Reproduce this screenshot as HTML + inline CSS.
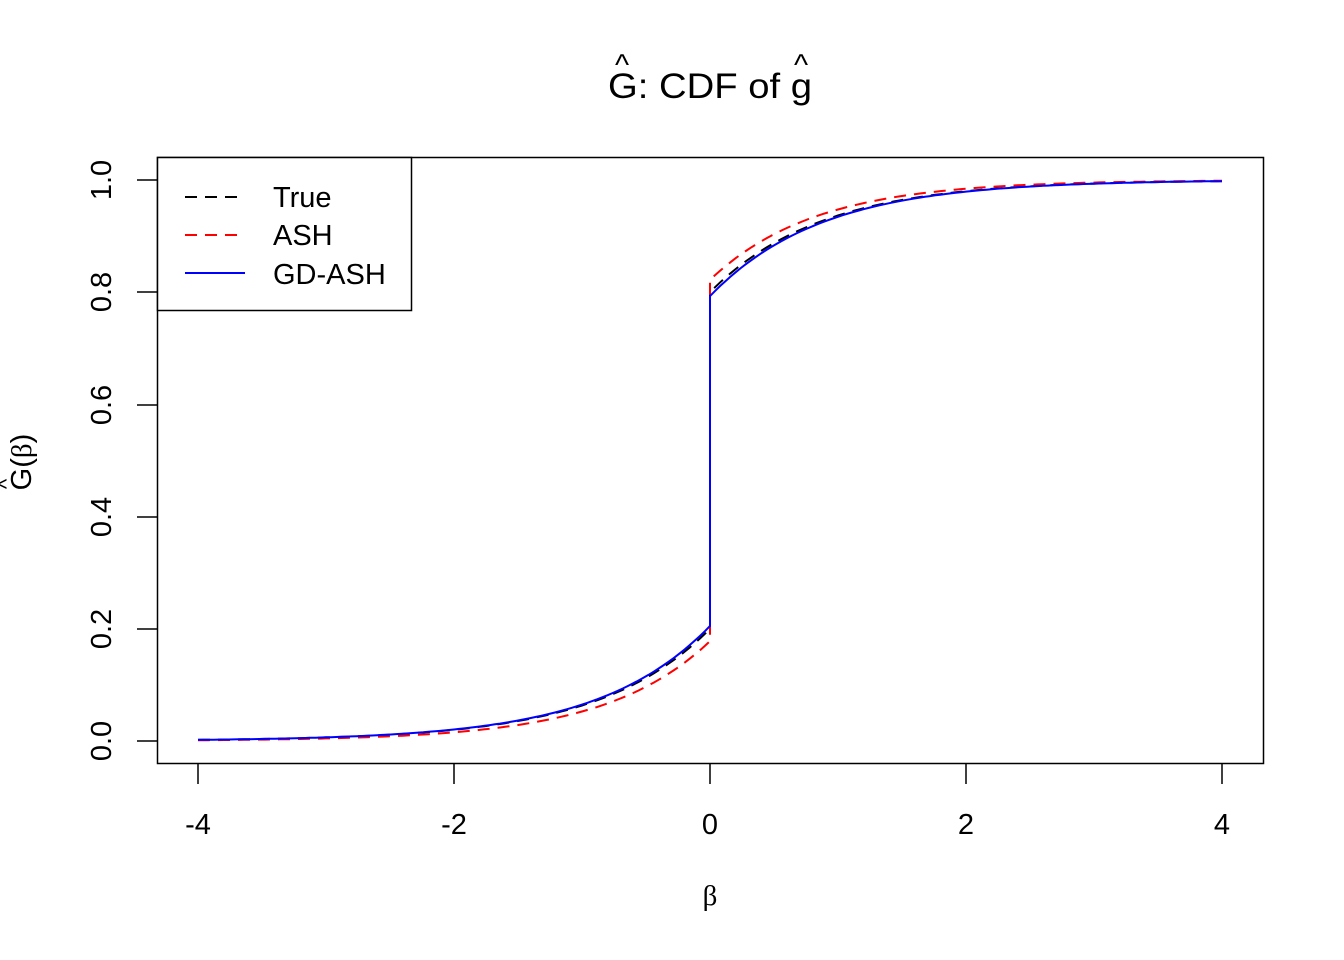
<!DOCTYPE html>
<html><head><meta charset="utf-8"><style>body{margin:0;background:#fff}svg{display:block}text{font-family:"Liberation Sans",sans-serif;fill:#000}</style></head><body>
<svg id="s" width="1344" height="960" xmlns="http://www.w3.org/2000/svg">
<text x="710" y="98" font-size="35" text-anchor="middle" textLength="204" lengthAdjust="spacingAndGlyphs">G: CDF of g</text>
<text x="622" y="75" font-size="30" text-anchor="middle">^</text>
<text x="801" y="75" font-size="30" text-anchor="middle">^</text>
<rect x="157.5" y="157.5" width="1106" height="606" fill="none" stroke="#000" stroke-width="1.5"/>
<g stroke="#000" stroke-width="1.5">
<line x1="198" y1="764" x2="198" y2="784"/><line x1="454" y1="764" x2="454" y2="784"/><line x1="710" y1="764" x2="710" y2="784"/><line x1="966" y1="764" x2="966" y2="784"/><line x1="1222" y1="764" x2="1222" y2="784"/>
<line x1="157" y1="741" x2="137" y2="741"/><line x1="157" y1="629" x2="137" y2="629"/><line x1="157" y1="517" x2="137" y2="517"/><line x1="157" y1="405" x2="137" y2="405"/><line x1="157" y1="292" x2="137" y2="292"/><line x1="157" y1="180" x2="137" y2="180"/>
</g>
<g font-size="29" text-anchor="middle">
<text x="198" y="834">-4</text><text x="454" y="834">-2</text><text x="710" y="834">0</text><text x="966" y="834">2</text><text x="1222" y="834">4</text>
<text transform="translate(111,741) rotate(-90)">0.0</text>
<text transform="translate(111,629) rotate(-90)">0.2</text>
<text transform="translate(111,517) rotate(-90)">0.4</text>
<text transform="translate(111,405) rotate(-90)">0.6</text>
<text transform="translate(111,292) rotate(-90)">0.8</text>
<text transform="translate(111,180) rotate(-90)">1.0</text>
<text x="710" y="905" style="font-family:'Liberation Serif',serif">β</text>
<text transform="translate(31,462) rotate(-90)">G(<tspan style="font-family:'Liberation Serif',serif">β</tspan>)</text>
<text transform="translate(14,484) rotate(-90)" font-size="22">^</text>
</g>
<g id="curves" fill="none" stroke-width="2"></g>
<rect x="157.5" y="157.5" width="254" height="153" fill="#fff" stroke="#000" stroke-width="1.5"/>
<line x1="185" y1="197" x2="245" y2="197" stroke="#000" stroke-width="2" stroke-dasharray="12,8"/>
<line x1="185" y1="235" x2="245" y2="235" stroke="#f00" stroke-width="2" stroke-dasharray="12,8"/>
<line x1="185" y1="273" x2="245" y2="273" stroke="#00f" stroke-width="2"/>
<g font-size="29"><text x="273" y="207">True</text><text x="273" y="245">ASH</text><text x="273" y="284">GD-ASH</text></g>
</svg>
<script>
function X(b){return 710+128*b}function Y(g){return 741-561*g}
function path(pl,pr,k){var d="";for(var i=0;i<=100;i++){var b=-4+4*i/100;var g=pl*Math.exp(k*b);d+=(i?"L":"M")+X(b).toFixed(1)+","+Y(g).toFixed(1)}
for(var i=0;i<=100;i++){var b=4*i/100;var g=1-pr*Math.exp(-k*b);d+="L"+X(b).toFixed(1)+","+Y(g).toFixed(1)}return d}
var c=document.getElementById("curves");
[[0.2,0.2,1.15,"#000","12,8"],[0.178,0.178,1.22,"#f00","12,8"],[0.205,0.207,1.15,"#00f",""]].forEach(function(a){
var p=document.createElementNS("http://www.w3.org/2000/svg","path");p.setAttribute("d",path(a[0],a[1],a[2]));p.setAttribute("stroke",a[3]);if(a[4])p.setAttribute("stroke-dasharray",a[4]);c.appendChild(p);});
</script>
</body></html>
